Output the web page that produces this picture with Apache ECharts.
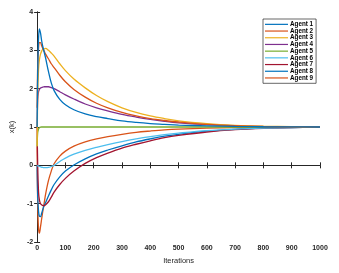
<!DOCTYPE html>
<html><head><meta charset="utf-8">
<script src="https://cdn.jsdelivr.net/npm/echarts@6/dist/echarts.min.js"></script>
<style>html,body{margin:0;padding:0;background:#fff}#c{width:339px;height:273px}</style>
</head><body><div id="c"></div>
<script>
const iterations = [0,2,5,8,12,16,20,25,30,40,50,60,80,100,130,170,210,250,300,350,400,450,500,600,700,800,900,1000];
const agentNames = ['Agent 1','Agent 2','Agent 3','Agent 4','Agent 5','Agent 6','Agent 7','Agent 8','Agent 9'];
const xTicks = [0,100,200,300,400,500,600,700,800,900,1000];
const yTicks = [-2,-1,0,1,2,3,4];
const agent1 = [1.0,2.4,3.3,3.56,3.45,3.25,3.1,2.95,2.8,2.45,2.15,1.95,1.72,1.58,1.45,1.34,1.27,1.22,1.16,1.12,1.09,1.07,1.05,1.03,1.015,1.006,1.002,1.0];
const agent2 = [1.5,2.6,3.05,3.2,3.2,3.12,3.05,2.98,2.9,2.78,2.65,2.55,2.35,2.18,1.98,1.78,1.62,1.5,1.38,1.29,1.22,1.17,1.13,1.07,1.035,1.015,1.005,1.0];
const agent3 = [0.5,1.8,2.5,2.75,2.9,2.98,3.02,3.04,3.05,3.0,2.93,2.85,2.65,2.47,2.25,2.02,1.82,1.66,1.5,1.38,1.29,1.22,1.16,1.09,1.045,1.02,1.008,1.0];
const agent4 = [1.0,1.7,1.92,1.98,2.02,2.03,2.04,2.05,2.05,2.05,2.03,2.0,1.92,1.84,1.73,1.6,1.5,1.42,1.33,1.26,1.2,1.15,1.11,1.06,1.03,1.012,1.004,1.0];
const agent5 = [0.5,0.85,0.95,0.98,0.995,1.0,1.0,1.0,1.0,1.0,1.0,1.0,1.0,1.0,1.0,1.0,1.0,1.0,1.0,1.0,1.0,1.0,1.0,1.0,1.0,1.0,1.0,1.0];
const agent6 = [0.0,-0.01,-0.02,-0.03,-0.04,-0.05,-0.055,-0.06,-0.06,-0.055,-0.03,0.0,0.1,0.19,0.29,0.39,0.47,0.54,0.62,0.69,0.75,0.80,0.84,0.905,0.945,0.97,0.985,0.995];
const agent7 = [1.0,0.0,-0.7,-0.9,-1.0,-1.03,-1.05,-1.05,-1.03,-0.95,-0.83,-0.7,-0.5,-0.34,-0.15,0.05,0.2,0.32,0.45,0.55,0.64,0.72,0.78,0.87,0.93,0.965,0.985,0.995];
const agent8 = [0.0,-0.8,-1.2,-1.33,-1.34,-1.25,-1.15,-1.05,-0.97,-0.8,-0.64,-0.5,-0.3,-0.15,0.01,0.17,0.3,0.4,0.51,0.61,0.69,0.76,0.81,0.89,0.94,0.97,0.985,0.995];
const agent9 = [0.5,-1.0,-1.65,-1.77,-1.6,-1.4,-1.2,-0.98,-0.75,-0.4,-0.15,0.04,0.24,0.37,0.5,0.61,0.69,0.75,0.81,0.86,0.895,0.925,0.945,0.97,0.985,0.993,0.997,1.0];
const agentValues = [agent1,agent2,agent3,agent4,agent5,agent6,agent7,agent8,agent9];
const colors = ['#0072BD','#D95319','#EDB120','#7E2F8E','#77AC30','#4DBEEE','#A2142F','#0072BD','#D95319'];

const font = 'Liberation Sans, Arial, sans-serif';
const axisCol = '#262626';
const chart = echarts.init(document.getElementById('c'));
const series = agentNames.map((n,i)=>({
  name: n, type: 'line', xAxisIndex: 0, yAxisIndex: 0,
  data: iterations.map((k,j)=>[k, agentValues[i][j]]),
  showSymbol: false, smooth: 0.35,
  lineStyle: {width: 1.3, color: colors[i]}, itemStyle: {color: colors[i]},
  z: 2 + (9 - i)
}));
const tickFmt = v => String(v);
chart.setOption({
  animation: false,
  color: colors,
  grid: {left: 30.7, top: 12, right: 19, bottom: 31, containLabel: false},
  legend: {
    orient: 'vertical', left: 263, top: 19,
    padding: [2, 3, 2, 2], itemGap: 0,
    borderColor: '#000', borderWidth: 0.6, backgroundColor: '#fff',
    icon: 'rect', itemWidth: 23, itemHeight: 1.2,
    textStyle: {fontFamily: font, fontSize: 6.3, fontWeight: 'bold', color: '#000', lineHeight: 6.7, padding: [0,0,0,-3]},
    data: agentNames
  },
  xAxis: [{
    type: 'value', min: xTicks[0], max: xTicks[xTicks.length-1], interval: xTicks[1]-xTicks[0],
    name: 'Iterations', nameLocation: 'middle', nameGap: 10,
    nameTextStyle: {fontFamily: font, fontSize: 7.5, color: axisCol},
    axisLine: {lineStyle: {color: axisCol, width: 1}},
    axisTick: {inside: true, length: 3, lineStyle: {color: axisCol}},
    axisLabel: {fontFamily: font, fontSize: 7, fontWeight: 'bold', color: axisCol, margin: 3, formatter: tickFmt},
    splitLine: {show: false}
  },{
    type: 'value', position: 'top', min: xTicks[0], max: xTicks[xTicks.length-1], interval: xTicks[1]-xTicks[0],
    axisLine: {show: true, lineStyle: {color: axisCol, width: 1}},
    axisTick: {inside: true, length: 3, lineStyle: {color: axisCol}},
    axisLabel: {show: false}, splitLine: {show: false}
  }],
  yAxis: [{
    type: 'value', min: yTicks[0], max: yTicks[yTicks.length-1], interval: 1,
    name: 'x(k)', nameLocation: 'middle', nameGap: 9, nameRotate: 90,
    nameTextStyle: {fontFamily: font, fontSize: 7.5, color: axisCol},
    axisLine: {show: true, lineStyle: {color: axisCol, width: 1}},
    axisTick: {show: true, inside: true, length: 3, lineStyle: {color: axisCol}},
    axisLabel: {fontFamily: font, fontSize: 7, fontWeight: 'bold', color: axisCol, margin: 4, formatter: tickFmt},
    splitLine: {show: false}
  },{
    type: 'value', position: 'right', min: yTicks[0], max: yTicks[yTicks.length-1], interval: 1,
    axisLine: {show: true, lineStyle: {color: axisCol, width: 1}},
    axisTick: {show: true, inside: true, length: 3, lineStyle: {color: axisCol}},
    axisLabel: {show: false}, splitLine: {show: false}
  }],
  series: series
});
</script></body></html>
